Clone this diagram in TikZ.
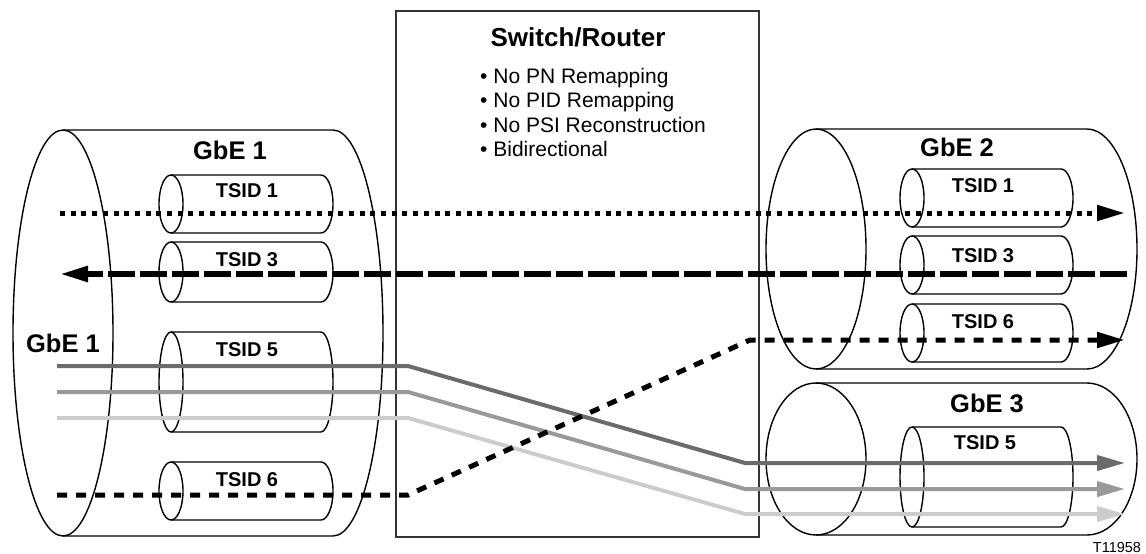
\documentclass[tikz,border=0pt]{standalone}
\usepackage{fontspec}
\setmainfont{Liberation Sans}
\usetikzlibrary{arrows.meta}
\definecolor{darkg}{gray}{0.42}
\definecolor{midg}{gray}{0.6}
\definecolor{lightg}{gray}{0.8}
\tikzset{
  cylline/.style={draw=black, line width=1.4pt},
  boxline/.style={draw=black!80, line width=1.6pt},
  gbelabel/.style={font=\bfseries\fontsize{25.5}{30}\selectfont, anchor=base, inner sep=0pt},
  titlelabel/.style={font=\bfseries\fontsize{26}{30}\selectfont, anchor=base, inner sep=0pt},
  tsidlabel/.style={font=\bfseries\fontsize{20}{24}\selectfont, anchor=base, inner sep=0pt},
  bulletlabel/.style={font=\fontsize{21}{25}\selectfont, anchor=base west, inner sep=0pt},
  codelabel/.style={font=\fontsize{14.5}{17}\selectfont, anchor=base, inner sep=0pt},
  tip/.style={-{Triangle[length=28pt, width=15pt]}},
  dotline/.style={line width=5pt, dash pattern=on 5pt off 5.7pt, tip},
  longdash/.style={line width=5.5pt, dash pattern=on 26.7pt off 5.3pt, tip},
  shortdash/.style={line width=5pt, dash pattern=on 10pt off 9pt, tip},
  grayline/.style={line width=4pt, tip},
}
% #1 left centre x, #2 right centre x, #3 centre y, #4 x radius, #5 y radius
\newcommand\drawcyl[5]{%
  \draw[cylline] (#1,#3-#5) -- (#2,#3-#5)
     arc[start angle=90, end angle=-90, x radius=#4pt, y radius=#5pt] -- (#1,#3+#5);
  \draw[cylline] (#1,#3) ellipse[x radius=#4pt, y radius=#5pt];
}
\begin{document}
\begin{tikzpicture}[x=1pt, y=-1pt]
\fill[white] (0,0) rectangle (1146,554);
\useasboundingbox (0,0) rectangle (1146,554);

% switch / router box
\node[boxline, rectangle, minimum width=363pt, minimum height=526pt, inner sep=0pt, anchor=north west] (switch) at (395,10) {};
\node[titlelabel] (title) at (578,46) {Switch/Router};
\node[bulletlabel] (b1) at (480,83) {• No PN Remapping};
\node[bulletlabel] (b2) at (480,107.5) {• No PID Remapping};
\node[bulletlabel] (b3) at (480,132) {• No PSI Reconstruction};
\node[bulletlabel] (b4) at (480,156.5) {• Bidirectional};

% left GbE 1
\drawcyl{63}{333}{333}{50}{203}
\drawcyl{171}{321}{204}{12}{29}
\drawcyl{171}{321}{272}{12}{30}
\drawcyl{171}{321}{382}{12}{50}
\drawcyl{171}{321}{491}{12}{29}
\node[gbelabel] (gbe1top) at (230,159) {GbE 1};
\node[gbelabel] (gbe1side) at (63,352) {GbE 1};
\node[tsidlabel] (l1) at (247,197) {TSID 1};
\node[tsidlabel] (l3) at (247,266) {TSID 3};
\node[tsidlabel] (l5) at (247,356) {TSID 5};
\node[tsidlabel] (l6) at (247,486) {TSID 6};

% right GbE 2
\drawcyl{816}{1087}{249}{50}{120}
\drawcyl{912}{1061}{198}{12}{29}
\drawcyl{912}{1061}{265}{12}{29}
\drawcyl{912}{1061}{333}{12}{29}
\node[gbelabel] (gbe2) at (957,156) {GbE 2};
\node[tsidlabel] (r1) at (983,192) {TSID 1};
\node[tsidlabel] (r3) at (983,262) {TSID 3};
\node[tsidlabel] (r6) at (983,328) {TSID 6};

% right GbE 3
\drawcyl{816}{1087}{459}{50}{76}
\drawcyl{912}{1061}{477}{12}{50}
\node[gbelabel] (gbe3) at (987,412) {GbE 3};
\node[tsidlabel] (r5) at (985,449) {TSID 5};

\node[codelabel] (code) at (1117,552) {T11958};

% connector end points
\coordinate (d1s) at (60,213);    \coordinate (d1e) at (1125,213);
\coordinate (d3s) at (1127,274);  \coordinate (d3e) at (60,274);
\coordinate (k1) at (57,366);  \coordinate (k2) at (408,366);  \coordinate (k3) at (745,463);  \coordinate (k4) at (1125,463);
\coordinate (m1) at (57,392);  \coordinate (m2) at (408,392);  \coordinate (m3) at (745,489);  \coordinate (m4) at (1125,489);
\coordinate (g1) at (57,418);  \coordinate (g2) at (408,418);  \coordinate (g3) at (745,514);  \coordinate (g4) at (1125,514);
\coordinate (s1) at (57,495);  \coordinate (s2) at (408,495);  \coordinate (s3) at (750,340);  \coordinate (s4) at (1125,340);

% streams
\draw[grayline, lightg] (g1) -- (g2) -- (g3) -- (g4);
\draw[grayline, midg] (m1) -- (m2) -- (m3) -- (m4);
\draw[grayline, darkg] (k1) -- (k2) -- (k3) -- (k4);
\draw[shortdash] (s1) -- (s2) -- (s3) -- (s4);
\draw[dotline] (d1s) -- (d1e);
\draw[longdash] (d3s) -- (d3e);
\end{tikzpicture}
\end{document}
